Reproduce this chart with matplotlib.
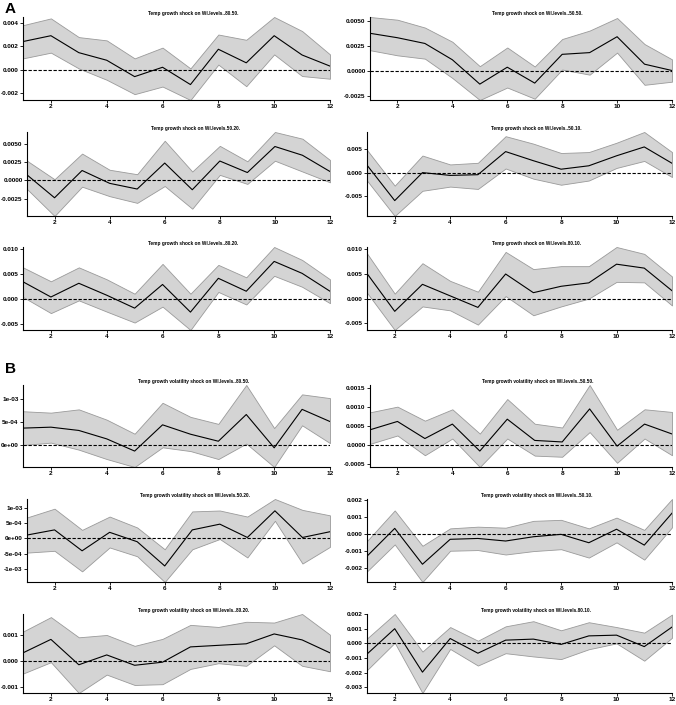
import numpy as np
import matplotlib
matplotlib.use('Agg')
import matplotlib.pyplot as plt

plt.rcParams['font.family'] = ['Liberation Sans', 'DejaVu Sans']
plt.rcParams['font.weight'] = 'bold'

horizon = list(range(1, 13))
x_ticks = [2, 4, 6, 8, 10, 12]

# panel A: temp growth shock
a1_mid = [0.0024, 0.0029, 0.00145, 0.0008, -0.0006, 0.0002, -0.00128, 0.00174, 0.00058, 0.0029, 0.00125, 0.0003]
a1_hi = [0.0038, 0.00438, 0.00278, 0.0025, 0.00096, 0.00188, 0.0001, 0.003, 0.00255, 0.0045, 0.0033, 0.0013]
a1_lo = [0.00096, 0.00145, 0.0001, -0.00087, -0.0021, -0.00145, -0.0026, 0.00043, -0.00142, 0.0013, -0.00055, -0.00078]

a2_mid = [0.00377, 0.00333, 0.00276, 0.00114, -0.00128, 0.0004, -0.00118, 0.00168, 0.00185, 0.00343, 0.0007, 0.00007]
a2_hi = [0.00539, 0.00512, 0.00434, 0.00293, 0.0005, 0.00236, 0.00047, 0.0032, 0.00404, 0.00529, 0.0027, 0.00118]
a2_lo = [0.00209, 0.00158, 0.00125, -0.00067, -0.00286, -0.00162, -0.00273, 0.00017, -0.00034, 0.00185, -0.00135, -0.00104]

a3_mid = [0.00074, -0.0024, 0.00134, -0.00042, -0.0012, 0.00236, -0.0013, 0.00264, 0.00106, 0.00463, 0.00343, 0.0012]
a3_hi = [0.00268, 0.00014, 0.00366, 0.00144, 0.00083, 0.00542, 0.0012, 0.00472, 0.0026, 0.00662, 0.0057, 0.00278]
a3_lo = [-0.0012, -0.0049, -0.00088, -0.00218, -0.0031, -0.00079, -0.0039, 0.00074, -0.0005, 0.00268, 0.0012, -0.00028]

a4_mid = [0.0016, -0.006, 0.0, -0.0006, -0.00045, 0.0045, 0.00255, 0.00073, 0.00146, 0.0036, 0.0055, 0.002]
a4_hi = [0.00485, -0.0028, 0.00365, 0.00175, 0.0021, 0.0078, 0.0062, 0.0042, 0.0044, 0.0064, 0.0087, 0.0044]
a4_lo = [-0.0017, -0.0093, -0.0039, -0.003, -0.0035, 0.00088, -0.0013, -0.0026, -0.0017, 0.001, 0.0025, -0.00095]

a5_mid = [0.0034, 0.00034, 0.0031, 0.0007, -0.0019, 0.00286, -0.0027, 0.0041, 0.0015, 0.0075, 0.0051, 0.0015]
a5_hi = [0.0063, 0.0035, 0.0063, 0.0039, 0.001, 0.007, 0.001, 0.0068, 0.0043, 0.0104, 0.0078, 0.0039]
a5_lo = [0.00034, -0.0029, -0.00034, -0.0026, -0.0048, -0.0016, -0.0063, 0.00136, -0.00116, 0.0046, 0.0024, -0.0009]

a6_mid = [0.0051, -0.0026, 0.0029, 0.00055, -0.0018, 0.005, 0.0012, 0.0025, 0.0032, 0.007, 0.0062, 0.0016]
a6_hi = [0.0092, 0.001, 0.0072, 0.0036, 0.0014, 0.0095, 0.006, 0.0066, 0.0066, 0.0105, 0.0091, 0.0045]
a6_lo = [0.0012, -0.0064, -0.0016, -0.0024, -0.0053, 0.0005, -0.0034, -0.0016, 0.0, 0.0034, 0.0033, -0.0014]

# panel B: temp growth volatility shock
b1_mid = [3.7e-4, 3.9e-4, 3.2e-4, 1.4e-4, -1.2e-4, 4.4e-4, 2.4e-4, 0.9e-4, 6.6e-4, -0.5e-4, 7.7e-4, 5.1e-4]
b1_hi = [7.3e-4, 7.0e-4, 7.7e-4, 5.5e-4, 2.5e-4, 9.1e-4, 6.1e-4, 4.6e-4, 1.29e-3, 3.7e-4, 1.09e-3, 1.01e-3]
b1_lo = [0.1e-4, 0.6e-4, -0.9e-4, -2.9e-4, -4.6e-4, -0.4e-4, -1.2e-4, -2.9e-4, 0.4e-4, -4.6e-4, 4.3e-4, 0.5e-4]

b2_mid = [3.9e-4, 6.1e-4, 1.6e-4, 5.4e-4, -1.7e-4, 6.7e-4, 1.1e-4, 0.7e-4, 9.4e-4, -0.4e-4, 5.4e-4, 2.8e-4]
b2_hi = [8.5e-4, 1.0e-3, 6.3e-4, 9.3e-4, 2.9e-4, 1.2e-3, 5.5e-4, 4.5e-4, 1.57e-3, 3.9e-4, 9.3e-4, 8.6e-4]
b2_lo = [0.2e-4, 2.4e-4, -2.8e-4, 1.6e-4, -5.9e-4, 1.6e-4, -2.9e-4, -3.2e-4, 3.3e-4, -4.8e-4, 1.6e-4, -2.8e-4]

b3_mid = [1.1e-4, 2.8e-4, -4.1e-4, 2.0e-4, -1.1e-4, -9.1e-4, 2.8e-4, 4.7e-4, 0.3e-4, 9.1e-4, 0.3e-4, 2.2e-4]
b3_hi = [6.9e-4, 9.8e-4, 2.8e-4, 7.2e-4, 3.6e-4, -3.6e-4, 8.9e-4, 9.2e-4, 7.2e-4, 1.3e-3, 9.4e-4, 7.6e-4]
b3_lo = [-4.7e-4, -4.1e-4, -1.09e-3, -3.0e-4, -5.9e-4, -1.44e-3, -3.6e-4, -0.2e-4, -6.3e-4, 5.8e-4, -8.3e-4, -2.8e-4]

b4_mid = [-1.3e-3, 3.3e-4, -1.77e-3, -3.1e-4, -2.6e-4, -4.1e-4, -1.6e-4, -0.2e-4, -5.1e-4, 2.8e-4, -6.5e-4, 1.22e-3]
b4_hi = [-4.1e-4, 1.38e-3, -6.9e-4, 3.3e-4, 4.3e-4, 3.7e-4, 7.7e-4, 8.3e-4, 3.3e-4, 9.6e-4, 2.4e-4, 2.05e-3]
b4_lo = [-2.19e-3, -6.1e-4, -2.81e-3, -9.8e-4, -9.4e-4, -1.2e-3, -1.0e-3, -8.9e-4, -1.38e-3, -4.9e-4, -1.5e-3, 3.9e-4]

b5_mid = [3.1e-4, 8.3e-4, -1.5e-4, 2.3e-4, -1.7e-4, -0.5e-4, 5.4e-4, 6.0e-4, 6.6e-4, 1.04e-3, 8.1e-4, 3.1e-4]
b5_hi = [1.13e-3, 1.69e-3, 9.1e-4, 1.0e-3, 5.8e-4, 8.5e-4, 1.39e-3, 1.31e-3, 1.51e-3, 1.48e-3, 1.81e-3, 1.01e-3]
b5_lo = [-4.9e-4, -0.5e-4, -1.24e-3, -5.3e-4, -9.3e-4, -9.0e-4, -3.1e-4, -0.9e-4, -1.9e-4, 6.0e-4, -1.9e-4, -4.0e-4]

b6_mid = [-7.3e-4, 1.0e-3, -1.96e-3, 3.3e-4, -6.7e-4, 2.2e-4, 2.9e-4, -0.7e-4, 5.1e-4, 5.6e-4, -2.2e-4, 1.11e-3]
b6_hi = [3.3e-4, 2.0e-3, -5.6e-4, 1.11e-3, 1.8e-4, 1.16e-3, 1.51e-3, 8.9e-4, 1.44e-3, 1.11e-3, 7.3e-4, 1.96e-3]
b6_lo = [-1.82e-3, 0.4e-4, -3.38e-3, -3.8e-4, -1.51e-3, -6.7e-4, -8.9e-4, -1.07e-3, -4.0e-4, 0.0, -1.18e-3, 3.8e-4]

titles = [
    'Temp growth shock on Wl.levels..80.50.',
    'Temp growth shock on Wl.levels..50.50.',
    'Temp growth shock on Wl.levels.50.20.',
    'Temp growth shock on Wl.levels..50.10.',
    'Temp growth shock on Wl.levels..80.20.',
    'Temp growth shock on Wl.levels.80.10.',
    'Temp growth volatility shock on Wl.levels..80.50.',
    'Temp growth volatility shock on Wl.levels..50.50.',
    'Temp growth volatility shock on Wl.levels.50.20.',
    'Temp growth volatility shock on Wl.levels..50.10.',
    'Temp growth volatility shock on Wl.levels..80.20.',
    'Temp growth volatility shock on Wl.levels.80.10.',
]

ytick_labels = [
    ['-0.002', '0.000', '0.002', '0.004'],
    ['-0.0025', '0.0000', '0.0025', '0.0050'],
    ['-0.0025', '0.0000', '0.0025', '0.0050'],
    ['-0.005', '0.000', '0.005'],
    ['-0.005', '0.000', '0.005', '0.010'],
    ['-0.005', '0.000', '0.005', '0.010'],
    ['0e+00', '5e-04', '1e-03'],
    ['-0.0005', '0.0000', '0.0005', '0.0010', '0.0015'],
    ['-1e-03', '-5e-04', '0e+00', '5e-04', '1e-03'],
    ['-0.002', '-0.001', '0.000', '0.001', '0.002'],
    ['-0.001', '0.000', '0.001'],
    ['-0.003', '-0.002', '-0.001', '0.000', '0.001', '0.002'],
]

series = [
    (a1_mid, a1_lo, a1_hi), (a2_mid, a2_lo, a2_hi),
    (a3_mid, a3_lo, a3_hi), (a4_mid, a4_lo, a4_hi),
    (a5_mid, a5_lo, a5_hi), (a6_mid, a6_lo, a6_hi),
    (b1_mid, b1_lo, b1_hi), (b2_mid, b2_lo, b2_hi),
    (b3_mid, b3_lo, b3_hi), (b4_mid, b4_lo, b4_hi),
    (b5_mid, b5_lo, b5_hi), (b6_mid, b6_lo, b6_hi),
]

W, H = 676, 705
fig = plt.figure(figsize=(W / 100, H / 100), dpi=100)

# pixel layout of each panel (left edge, right edge) and rows (top, bottom)
lefts = [23, 370, 27, 367, 23, 367, 23, 370, 27, 367, 23, 367]
rights = [330, 672]
rows = [(17, 100), (132, 216), (247, 330), (385, 467), (499, 582), (614, 693)]

for i, (mid, lo, hi) in enumerate(series):
    r, c = divmod(i, 2)
    x0 = lefts[i]
    x1 = rights[c]
    top, bot = rows[r]
    ax = fig.add_axes([x0 / W, 1 - bot / H, (x1 - x0) / W, (bot - top) / H])
    lo = np.array(lo)
    hi = np.array(hi)
    ax.fill_between(horizon, lo, hi, facecolor='#d4d4d4', edgecolor='#9a9a9a',
                    linewidth=0.6, zorder=1)
    ax.plot(horizon, mid, color='black', linewidth=0.8, zorder=3)
    ax.axhline(0, color='black', linestyle=(0, (3, 1.5)), linewidth=0.8, zorder=2)
    ax.set_xlim(1, 12)
    ax.set_ylim(lo.min(), hi.max())
    ax.set_xticks(x_ticks)
    ax.set_xticklabels([str(t) for t in x_ticks])
    ax.set_yticks([float(s) for s in ytick_labels[i]])
    ax.set_yticklabels(ytick_labels[i])
    ax.tick_params(labelsize=4.6, length=2, width=0.6, pad=1.2, colors='black')
    for s in ['top', 'right']:
        ax.spines[s].set_visible(False)
    for s in ['left', 'bottom']:
        ax.spines[s].set_linewidth(0.8)
    ax.text(0.555, 1.01, titles[i], transform=ax.transAxes, ha='center',
            va='bottom', fontsize=3.4, fontweight='bold')

fig.text(5 / W, 1 - 2 / H, 'A', fontsize=11, fontweight='bold', va='top')
fig.text(5 / W, 1 - 362 / H, 'B', fontsize=11, fontweight='bold', va='top')

fig.savefig('out.png', dpi=100)
